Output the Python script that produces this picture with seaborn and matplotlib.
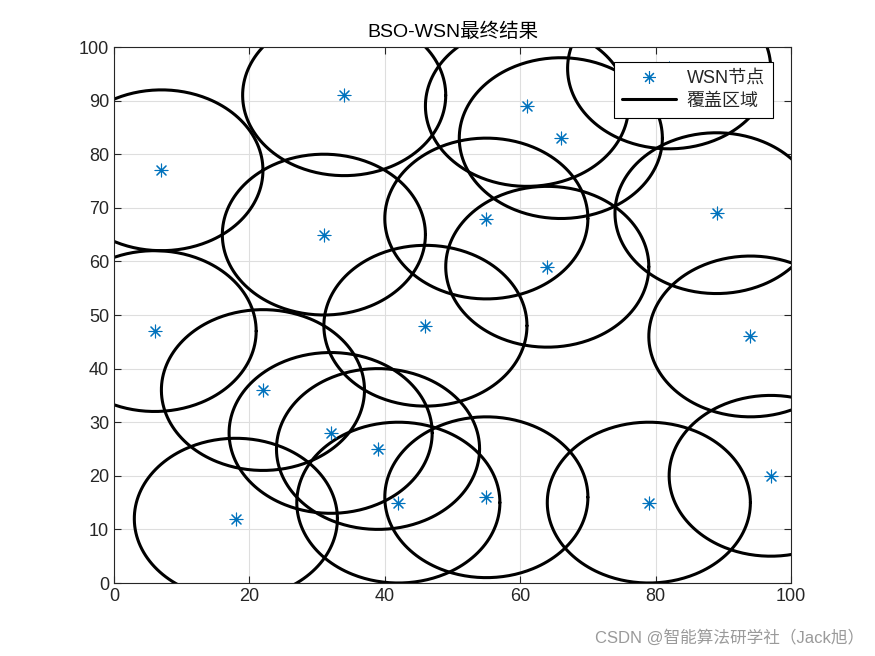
import numpy as np
import pandas as pd
import matplotlib
matplotlib.use("Agg")
import matplotlib.pyplot as plt
import seaborn as sns
from matplotlib.lines import Line2D

# Data
node_x = [7, 34, 61, 66, 82, 31, 55, 89, 64, 6, 46, 94, 22, 32, 39, 42, 55, 18, 79, 97]
node_y = [77, 91, 89, 83, 96, 65, 68, 69, 59, 47, 48, 46, 36, 28, 25, 15, 16, 12, 15, 20]
radius = 15
x_ticks = [0, 20, 40, 60, 80, 100]
y_ticks = [0, 10, 20, 30, 40, 50, 60, 70, 80, 90, 100]
title = "BSO-WSN最终结果"
legend_labels = ["WSN节点", "覆盖区域"]

sns.set_theme(style="white")
plt.rcParams['font.family'] = ['Liberation Sans', 'Noto Sans CJK SC', 'DejaVu Sans']
plt.rcParams['axes.unicode_minus'] = False

fig = plt.figure(figsize=(8.75, 6.56), dpi=100)
ax = fig.add_axes([114/875, 73/656, 677/875, 536/656])

# circles
theta = np.linspace(0, 2*np.pi, 300)
rows = []
for i, (cx, cy) in enumerate(zip(node_x, node_y)):
    for t in theta:
        rows.append((i, cx + radius*np.cos(t), cy + radius*np.sin(t)))
circ = pd.DataFrame(rows, columns=["id", "x", "y"])
sns.lineplot(data=circ, x="x", y="y", units="id", estimator=None, sort=False,
             color="black", linewidth=2.2, ax=ax, legend=False)

nodes = pd.DataFrame({"x": node_x, "y": node_y})
sns.scatterplot(data=nodes, x="x", y="y", marker=(8, 2, 0), s=85, color="#0072BD",
                linewidth=0.8, edgecolor="#0072BD", ax=ax, legend=False, zorder=3)

ax.set_xlim(0, 100)
ax.set_ylim(0, 100)
ax.set_xticks(x_ticks)
ax.set_yticks(y_ticks)
ax.set_xlabel("")
ax.set_ylabel("")
ax.grid(True, color="#dedede", linewidth=0.8)
ax.set_axisbelow(True)
for sp in ax.spines.values():
    sp.set_color("#262626")
    sp.set_linewidth(0.8)
ax.tick_params(direction="in", length=5, width=0.8, colors="#262626",
               labelsize=13, top=True, right=True, bottom=True, left=True,
               labelcolor="#262626")
ax.set_title(title, fontsize=14, color="black", pad=7)

handles = [Line2D([], [], marker=(8, 2, 0), linestyle="none", color="#0072BD",
                  markeredgecolor="#0072BD", markersize=9, markeredgewidth=0.8),
           Line2D([], [], color="black", linewidth=2.2)]
leg = ax.legend(handles, legend_labels, loc="upper right",
                bbox_to_anchor=(1 - 18/677, 1 - 15/536), fontsize=13,
                frameon=True, fancybox=False, framealpha=1, edgecolor="black",
                handlelength=3.0, borderpad=0.45, labelspacing=0.3, handletextpad=0.6,
                borderaxespad=0)
leg.get_frame().set_linewidth(0.8)
leg.set_zorder(10)

fig.text(0.988, 0.016, "CSDN @智能算法研学社（Jack旭）", ha="right", va="bottom",
         fontsize=12, color="#9a9a9a")

fig.savefig("out.png", dpi=100)
